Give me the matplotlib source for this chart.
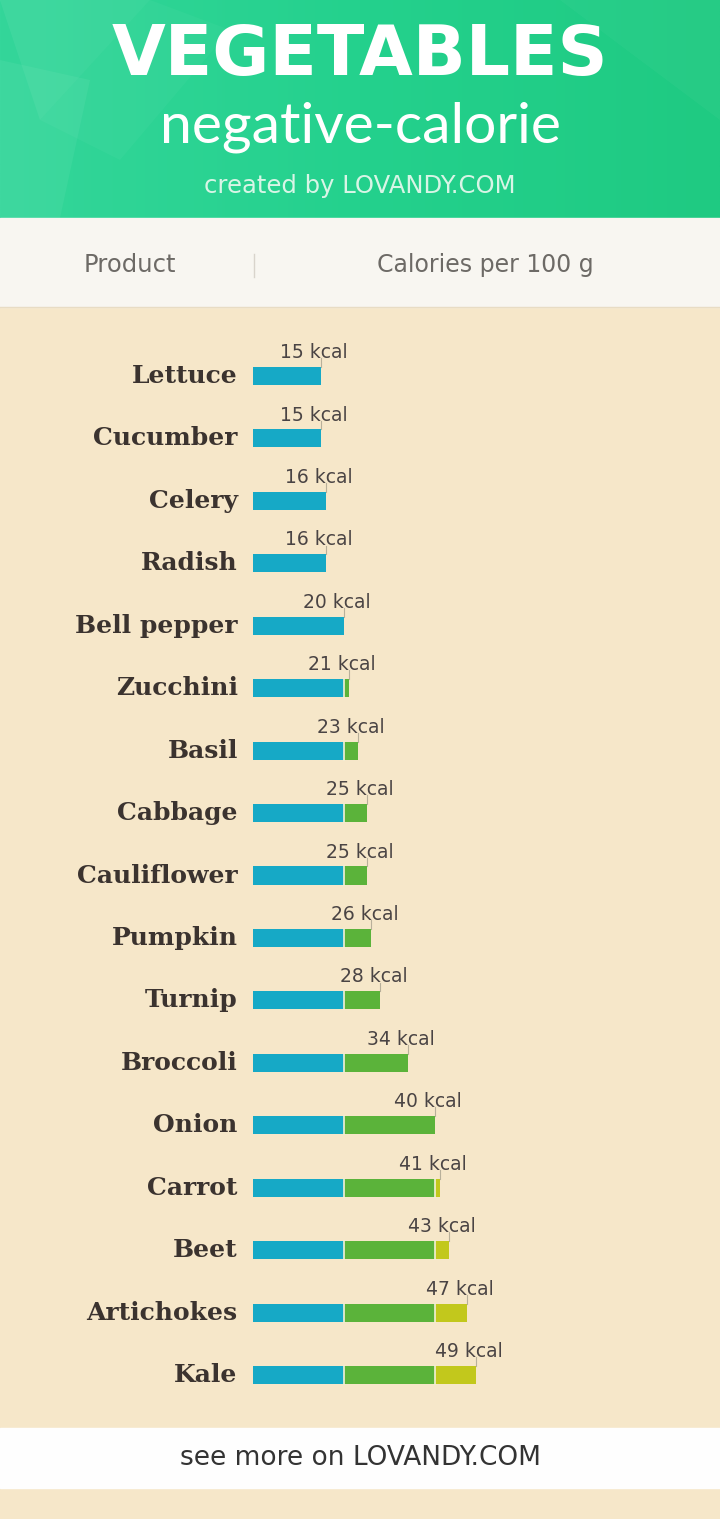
import numpy as np
import matplotlib
matplotlib.use("Agg")
import matplotlib.pyplot as plt
from matplotlib.patches import Rectangle, Polygon
from matplotlib.colors import LinearSegmentedColormap

# ---- data ----
products = ["Lettuce", "Cucumber", "Celery", "Radish", "Bell pepper", "Zucchini",
            "Basil", "Cabbage", "Cauliflower", "Pumpkin", "Turnip", "Broccoli",
            "Onion", "Carrot", "Beet", "Artichokes", "Kale"]
calories = [15, 15, 16, 16, 20, 21, 23, 25, 25, 26, 28, 34, 40, 41, 43, 47, 49]
band_edges = [20, 40]
title = "VEGETABLES"
subtitle = "negative-calorie"
credit = "created by LOVANDY.COM"
col_headers = ["Product", "Calories per 100 g"]
footer = "see more on LOVANDY.COM"

W, H = 720, 1519
fig = plt.figure(figsize=(W / 100, H / 100), dpi=100)

# background axes in pixel coordinates
bg = fig.add_axes([0, 0, 1, 1])
bg.set_xlim(0, W)
bg.set_ylim(H, 0)
bg.axis("off")

# beige body
bg.add_patch(Rectangle((0, 0), W, H, color="#f6e7c9", zorder=0))
# header gradient
grad = np.linspace(0, 1, 256).reshape(1, -1)
cmap = LinearSegmentedColormap.from_list("g", ["#34d69a", "#24d18d", "#1fca82"])
bg.imshow(grad, cmap=cmap, extent=(0, W, 218, 0), aspect="auto", zorder=1)
for pts, a in [([(0, 0), (150, 0), (40, 120)], 0.06),
               ([(0, 60), (90, 80), (60, 218), (0, 218)], 0.05),
               ([(40, 120), (150, 0), (230, 30), (120, 160)], 0.03),
               ([(560, 0), (720, 0), (720, 120)], 0.03)]:
    bg.add_patch(Polygon(pts, closed=True, color="white", alpha=a, lw=0, zorder=2))
# column header band
bg.add_patch(Rectangle((0, 218), W, 89, color="#f8f6f1", zorder=1))
bg.plot([0, W], [307, 307], color="#e8dcc4", lw=1, zorder=2)
bg.plot([254, 254], [254, 277], color="#d9d4cc", lw=1, zorder=3)
# footer band
bg.add_patch(Rectangle((0, 1428), W, 60, color="#fefefe", zorder=1))

bg.text(360, 55, title, color="white", fontsize=50, fontweight="heavy",
        family=["DejaVu Sans"], ha="center", va="center", zorder=5)
bg.text(360, 127, subtitle, color="white", fontsize=41,
        family=["Lato", "DejaVu Sans"], ha="center", va="center", zorder=5)
bg.text(360, 186, credit, color="#d8f5e6", fontsize=17.5,
        family=["DejaVu Sans"], ha="center", va="center", zorder=5)
bg.text(130, 265, col_headers[0], color="#6d6a66", fontsize=17.5,
        family=["DejaVu Sans"], ha="center", va="center", zorder=5)
bg.text(485, 265, col_headers[1], color="#6d6a66", fontsize=17,
        family=["DejaVu Sans"], ha="center", va="center", zorder=5)
bg.text(361, 1458, footer, color="#333333", fontsize=19,
        family=["DejaVu Sans"], ha="center", va="center", zorder=5)

# ---- bar axes ----
x0 = 253
px_per_kcal = 4.55
top_px, bot_px = 307, 1428
row0, row_step = 376, 62.44
ax = fig.add_axes([x0 / W, 1 - bot_px / H, (W - x0) / W, (bot_px - top_px) / H])
ax.set_xlim(0, (W - x0) / px_per_kcal)
ax.set_ylim((bot_px - row0) / row_step, (top_px - row0) / row_step)
ax.patch.set_alpha(0)
ax.axis("off")

cal = np.array(calories, dtype=float)
y = np.arange(len(products))
seg1 = np.minimum(cal, band_edges[0])
seg2 = np.clip(cal - band_edges[0], 0, band_edges[1] - band_edges[0])
seg3 = np.clip(cal - band_edges[1], 0, None)
bh = 0.29
ax.barh(y, seg1, height=bh, color="#16a9c6", edgecolor="none", zorder=3)
ax.barh(y, seg2, left=seg1, height=bh, color="#5bb33a", edgecolor="none", zorder=3)
ax.barh(y, seg3, left=seg1 + seg2, height=bh, color="#c2c81c", edgecolor="none", zorder=3)
# thin light separators between segments
for i, v in enumerate(cal):
    for e in band_edges:
        if v > e:
            ax.plot([e, e], [i - bh / 2, i + bh / 2], color="#f4f0d8", lw=1.2, zorder=4)

for i, (name, v) in enumerate(zip(products, cal)):
    ax.plot([v, v], [i - bh / 2, i - bh / 2 - 0.14], color="#b8b09a", lw=0.8, zorder=4)
    ax.annotate(f"{int(v)} kcal", xy=(v, i - bh / 2 - 0.1), xytext=(-5, -1),
                textcoords="offset points", ha="center", va="bottom",
                fontsize=13.5, color="#4a4444", family=["DejaVu Sans"], zorder=5)
    ax.annotate(name, xy=(0, i), xytext=(-11, 0), textcoords="offset points",
                ha="right", va="center", fontsize=18, fontweight="bold",
                color="#3b332f", family=["DejaVu Serif"], zorder=5)

fig.savefig("out.png", dpi=100)
